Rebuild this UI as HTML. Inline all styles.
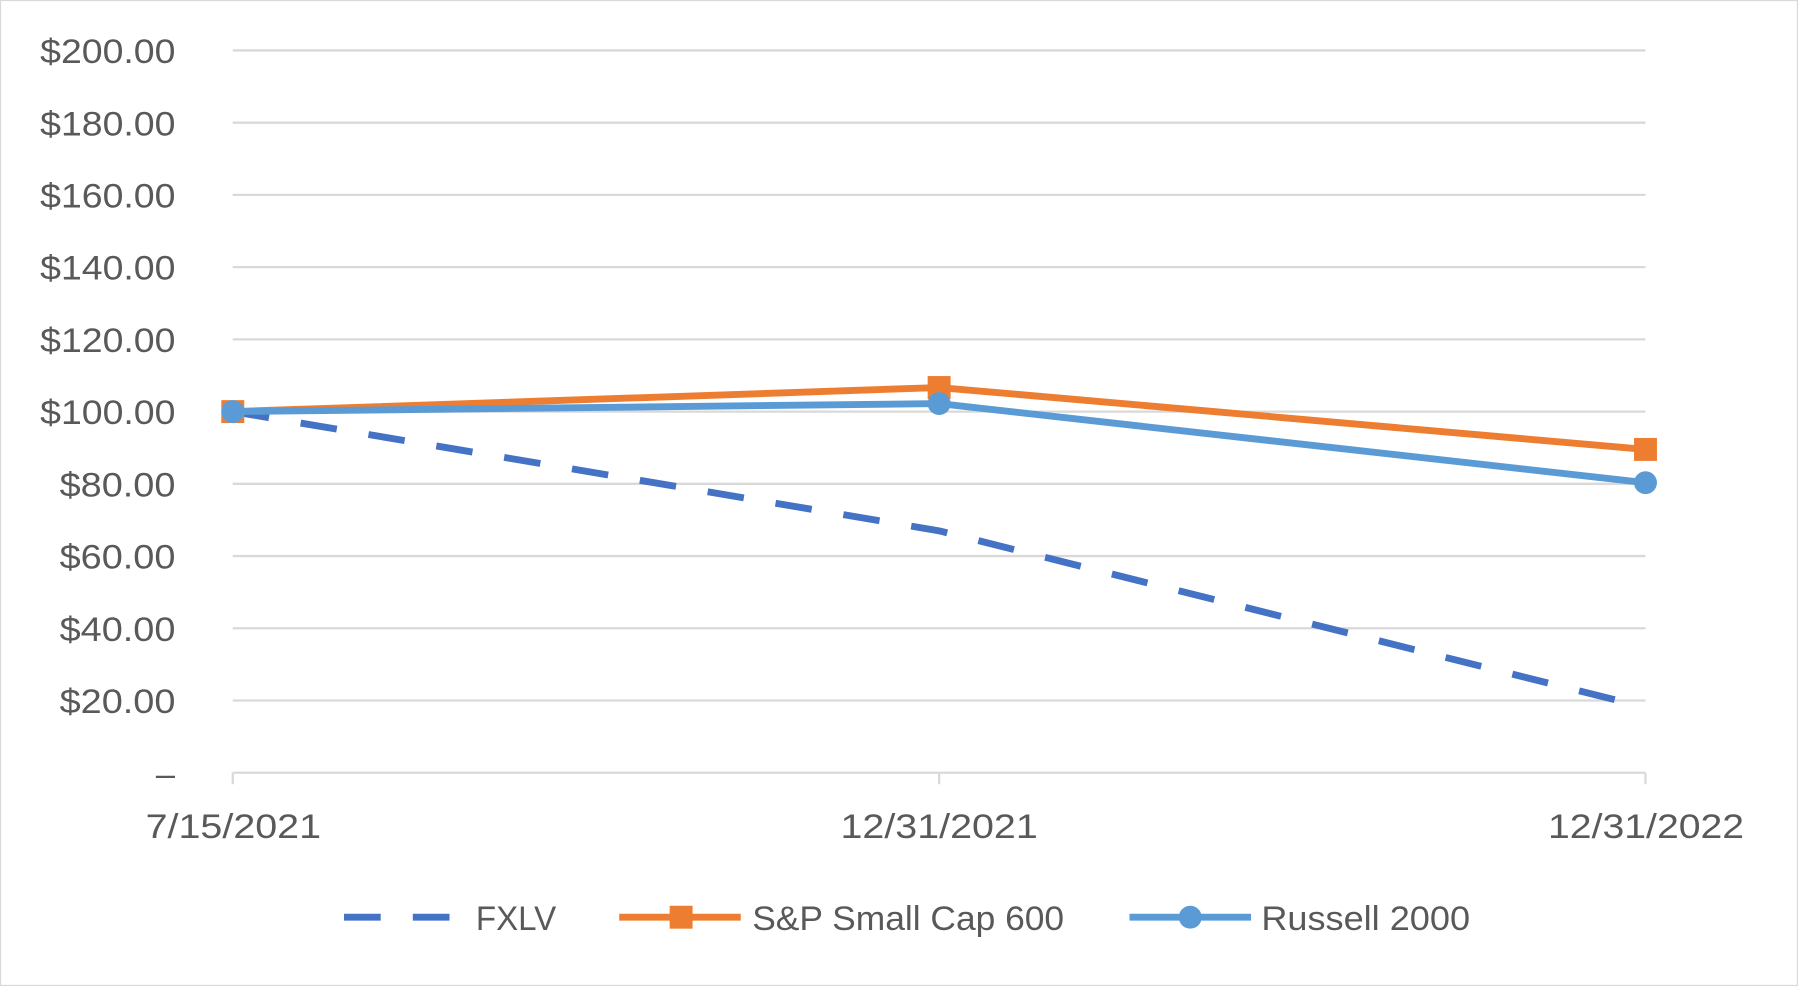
<!DOCTYPE html>
<html><head><meta charset="utf-8"><style>
html,body{margin:0;padding:0;background:#fff;}
svg{display:block;}
text{font-family:"Liberation Sans",sans-serif;fill:#595959;}
</style></head><body>
<svg width="1798" height="986" viewBox="0 0 1568 860" preserveAspectRatio="none" xmlns="http://www.w3.org/2000/svg">
<rect x="0.5" y="0.5" width="1567" height="859" fill="#fff" stroke="#d9d9d9"/>
<g stroke="#d9d9d9" stroke-width="2">
<line x1="203" y1="44" x2="1435" y2="44"/>
<line x1="203" y1="107" x2="1435" y2="107"/>
<line x1="203" y1="170" x2="1435" y2="170"/>
<line x1="203" y1="233" x2="1435" y2="233"/>
<line x1="203" y1="296" x2="1435" y2="296"/>
<line x1="203" y1="359" x2="1435" y2="359"/>
<line x1="203" y1="422" x2="1435" y2="422"/>
<line x1="203" y1="485" x2="1435" y2="485"/>
<line x1="203" y1="548" x2="1435" y2="548"/>
<line x1="203" y1="611" x2="1435" y2="611"/>
<line x1="203" y1="674" x2="1435" y2="674"/>
<line x1="203" y1="674" x2="203" y2="684"/>
<line x1="819" y1="674" x2="819" y2="684"/>
<line x1="1435" y1="674" x2="1435" y2="684"/>
</g>
<g font-size="30">
<text x="35" y="55" textLength="118" lengthAdjust="spacingAndGlyphs">$200.00</text>
<text x="35" y="118" textLength="118" lengthAdjust="spacingAndGlyphs">$180.00</text>
<text x="35" y="181" textLength="118" lengthAdjust="spacingAndGlyphs">$160.00</text>
<text x="35" y="244" textLength="118" lengthAdjust="spacingAndGlyphs">$140.00</text>
<text x="35" y="307" textLength="118" lengthAdjust="spacingAndGlyphs">$120.00</text>
<text x="35" y="370" textLength="118" lengthAdjust="spacingAndGlyphs">$100.00</text>
<text x="52" y="433" textLength="101" lengthAdjust="spacingAndGlyphs">$80.00</text>
<text x="52" y="496" textLength="101" lengthAdjust="spacingAndGlyphs">$60.00</text>
<text x="52" y="559" textLength="101" lengthAdjust="spacingAndGlyphs">$40.00</text>
<text x="52" y="622" textLength="101" lengthAdjust="spacingAndGlyphs">$20.00</text>
<text x="136" y="685">–</text>
</g>
<g font-size="30">
<text x="127" y="731" textLength="153" lengthAdjust="spacingAndGlyphs">7/15/2021</text>
<text x="733" y="731" textLength="172" lengthAdjust="spacingAndGlyphs">12/31/2021</text>
<text x="1350" y="731" textLength="171" lengthAdjust="spacingAndGlyphs">12/31/2022</text>
</g>
<polyline points="203,359 819,463 1435,617" fill="none" stroke="#4472c4" stroke-width="6" stroke-dasharray="32,28"/>
<polyline points="203,359 819,338 1435,392" fill="none" stroke="#ed7d31" stroke-width="6"/>
<g fill="#ed7d31"><rect x="193" y="349" width="20" height="20"/><rect x="809" y="328" width="20" height="20"/><rect x="1425" y="382" width="20" height="20"/></g>
<polyline points="203,359 819,352 1435,421" fill="none" stroke="#5b9bd5" stroke-width="6"/>
<g fill="#5b9bd5"><circle cx="203" cy="359" r="10"/><circle cx="819" cy="352" r="10"/><circle cx="1435" cy="421" r="10"/></g>
<line x1="300" y1="800" x2="392" y2="800" stroke="#4472c4" stroke-width="6" stroke-dasharray="32,28"/>
<text x="415" y="811" font-size="30" textLength="70" lengthAdjust="spacingAndGlyphs">FXLV</text>
<line x1="540" y1="800" x2="646" y2="800" stroke="#ed7d31" stroke-width="6"/>
<rect x="584" y="790" width="20" height="20" fill="#ed7d31"/>
<text x="656" y="811" font-size="30" textLength="272" lengthAdjust="spacingAndGlyphs">S&amp;P Small Cap 600</text>
<line x1="985" y1="800" x2="1091" y2="800" stroke="#5b9bd5" stroke-width="6"/>
<circle cx="1038" cy="800" r="10" fill="#5b9bd5"/>
<text x="1100" y="811" font-size="30" textLength="182" lengthAdjust="spacingAndGlyphs">Russell 2000</text>
</svg>
</body></html>
